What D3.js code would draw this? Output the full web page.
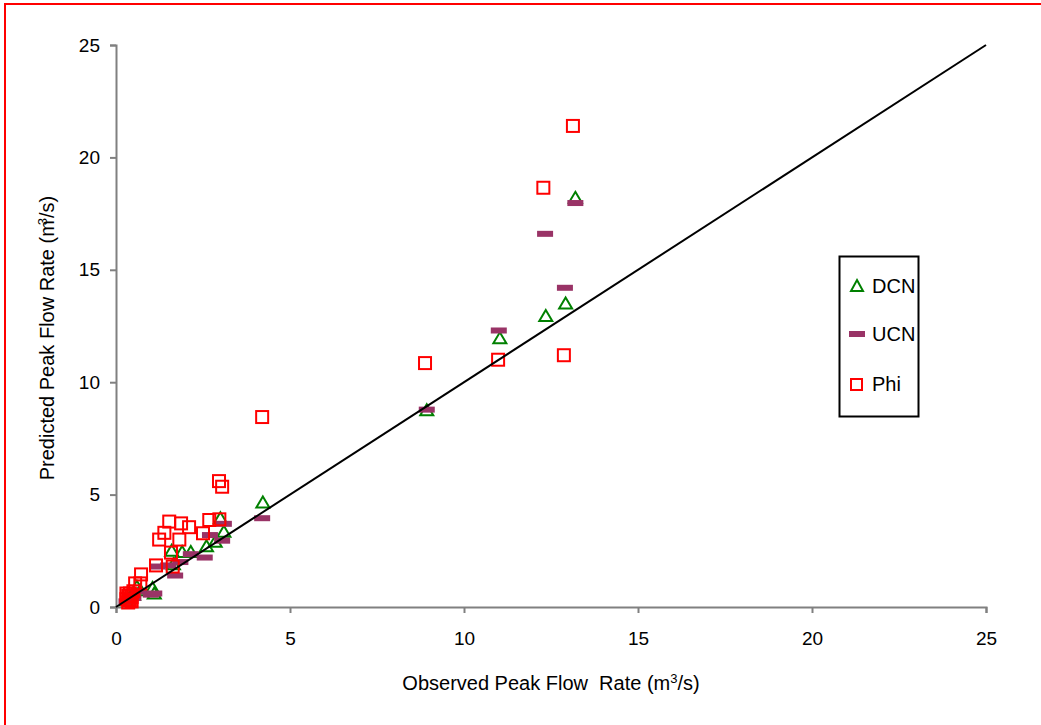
<!DOCTYPE html>
<html>
<head>
<title>Peak Flow Rate</title>
<script src="https://cdn.jsdelivr.net/npm/d3@7"></script>
<style>
body { margin: 0px; background: #fff; }
text { font-family: "Liberation Sans", Arial, sans-serif; fill: #000; }
</style>
</head>
<body>
<script>
// observed vs predicted peak flow (m3/s)
var dcn = [[0.3,0.3],[0.4,0.45],[0.5,0.55],[0.6,0.9],[0.7,0.75],[1.05,0.85],[1.1,0.6],
  [1.6,2.5],[1.65,1.9],[1.9,2.45],[2.15,2.45],[2.6,2.7],[2.85,2.9],[3.0,3.95],[3.1,3.35],
  [4.22,4.65],[8.93,8.75],[11.03,11.95],[12.35,12.95],[12.92,13.5],[13.2,18.2]];
var ucn = [[0.3,0.25],[0.4,0.3],[0.5,0.4],[0.65,0.7],[1.0,0.55],[1.1,0.6],[1.2,1.8],
  [1.5,1.85],[1.7,1.4],[1.85,2.0],[2.15,2.35],[2.55,2.2],[2.7,3.2],[3.05,2.95],[3.1,3.7],
  [4.2,3.95],[8.93,8.78],[11.0,12.3],[12.33,16.6],[12.9,14.2],[13.2,17.97]];
var phi = [[0.3,0.35],[0.35,0.5],[0.4,0.3],[0.4,0.6],[0.45,0.45],[0.5,0.7],[0.55,1.05],
  [0.7,1.05],[0.72,1.45],[1.15,1.85],[1.24,3.0],[1.39,3.3],[1.53,3.8],[1.58,2.42],
  [1.63,1.8],[1.82,3.0],[1.87,3.72],[2.1,3.55],[2.5,3.28],[2.68,3.87],[2.97,3.9],
  [2.96,5.6],[3.05,5.35],[4.2,8.45],[8.88,10.85],[10.98,11.0],[12.28,18.65],
  [12.87,11.2],[13.13,21.4],[0.35,0.2],[0.45,0.25],[0.3,0.6]];
var ticks = [0, 5, 10, 15, 20, 25];
var names = ["DCN", "UCN", "Phi"];

var w = 1041, h = 725;
var svg = d3.select("body").append("svg").attr("width", w).attr("height", h);

// red frame
svg.append("rect").attr("x", 5).attr("y", 4).attr("width", w).attr("height", h)
  .attr("fill", "none").attr("stroke", "red").attr("stroke-width", 2);

var x = d3.scaleLinear().domain([0, 25]).range([116, 986]);
var y = d3.scaleLinear().domain([0, 25]).range([607, 45]);

var xAxis = svg.append("g").attr("transform", "translate(0,607)")
  .call(d3.axisBottom(x).tickValues(ticks).tickSize(6).tickPadding(19));
var yAxis = svg.append("g").attr("transform", "translate(116,0)")
  .call(d3.axisLeft(y).tickValues(ticks).tickSize(6).tickPadding(10));
[xAxis, yAxis].forEach(function(g){
  g.select(".domain").attr("stroke", "#808080").attr("stroke-width", 2);
  g.selectAll(".tick line").attr("stroke", "#808080").attr("stroke-width", 2);
  g.selectAll(".tick text").style("font-size", "19px").style("font-family", "Liberation Sans, Arial, sans-serif");
});

// series
var g = svg.append("g");
g.selectAll(".dcn").data(dcn).enter().append("path")
  .attr("class", "dcn")
  .attr("d", "M0,-6L6.5,5L-6.5,5Z")
  .attr("transform", function(d){ return "translate(" + x(d[0]) + "," + y(d[1]) + ")"; })
  .attr("fill", "none").attr("stroke", "#008000").attr("stroke-width", 2);
g.selectAll(".ucn").data(ucn).enter().append("rect")
  .attr("class", "ucn")
  .attr("x", function(d){ return x(d[0]) - 8; })
  .attr("y", function(d){ return y(d[1]) - 3; })
  .attr("width", 16).attr("height", 6)
  .attr("fill", "#993366");
g.selectAll(".phi").data(phi).enter().append("rect")
  .attr("class", "phi")
  .attr("x", function(d){ return x(d[0]) - 6; })
  .attr("y", function(d){ return y(d[1]) - 6; })
  .attr("width", 12).attr("height", 12)
  .attr("fill", "none").attr("stroke", "red").attr("stroke-width", 2);

// 1:1 line
svg.append("line")
  .attr("x1", x(0)).attr("y1", y(0)).attr("x2", x(25)).attr("y2", y(25))
  .attr("stroke", "#000").attr("stroke-width", 2);

// axis titles
var xt = svg.append("text").attr("x", 551).attr("y", 690).attr("text-anchor", "middle")
  .style("font-size", "20px").style("white-space", "pre");
xt.append("tspan").text("Observed Peak Flow  Rate (m");
xt.append("tspan").text("3").style("font-size", "13px").attr("dy", -7);
xt.append("tspan").text("/s)").attr("dy", 7);

var yt = svg.append("text").attr("transform", "translate(54,338) rotate(-90)")
  .attr("text-anchor", "middle").style("font-size", "20px");
yt.append("tspan").text("Predicted Peak Flow Rate (m");
yt.append("tspan").text("3").style("font-size", "13px").attr("dy", -7).attr("dx", -5);
yt.append("tspan").text("/s)").attr("dy", 7);

// legend
var lg = svg.append("g");
lg.append("rect").attr("x", 839.5).attr("y", 256.5).attr("width", 79).attr("height", 160)
  .attr("fill", "#fff").attr("stroke", "#000").attr("stroke-width", 2);
var ly = [286, 334, 384];
names.forEach(function(n, i){
  var cy = ly[i];
  if (i == 0) {
    lg.append("path").attr("d", "M0,-6L6,5L-6,5Z")
      .attr("transform", "translate(857," + cy + ")")
      .attr("fill", "none").attr("stroke", "#008000").attr("stroke-width", 2);
  } else if (i == 1) {
    lg.append("rect").attr("x", 849).attr("y", cy - 3).attr("width", 16).attr("height", 6)
      .attr("fill", "#993366");
  } else {
    lg.append("rect").attr("x", 851).attr("y", cy - 5).attr("width", 11).attr("height", 11)
      .attr("fill", "none").attr("stroke", "red").attr("stroke-width", 2);
  }
  lg.append("text").attr("x", 872).attr("y", cy + 7).text(n).style("font-size", "20px");
});
</script>
</body>
</html>
